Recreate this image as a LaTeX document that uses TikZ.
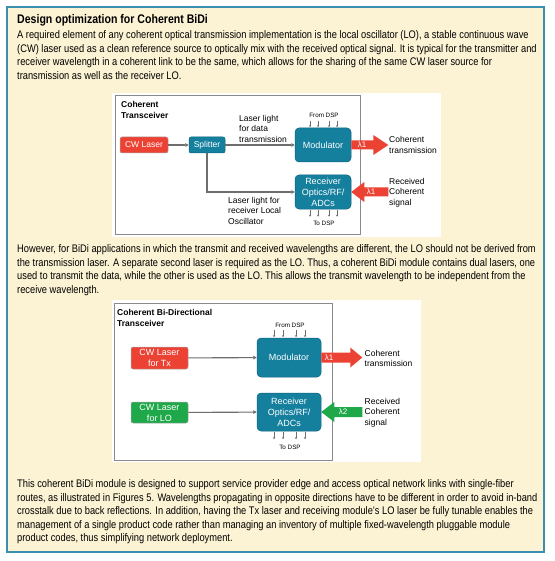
\documentclass[tikz,border=0pt]{standalone}
\usepackage{fontspec}
\setmainfont{Liberation Sans}
\newfontfamily\narrowfont[FakeStretch=0.845]{Liberation Sans}
\usetikzlibrary{arrows.meta,calc}
\definecolor{frameblue}{HTML}{3A8FB0}
\definecolor{cream}{HTML}{FCF3D4}
\definecolor{tealbox}{HTML}{15809E}
\definecolor{tealedge}{HTML}{0F6680}
\definecolor{redbox}{HTML}{EC4234}
\definecolor{greenbox}{HTML}{1FA84A}
\definecolor{linegray}{HTML}{6E6E6E}
\definecolor{boxgray}{HTML}{8A8A8A}
\begin{document}
\begin{tikzpicture}[x=1pt,y=-1pt,
  para/.style={inner sep=0, align=left, anchor=north west, font=\narrowfont\fontsize{11}{13.5}\selectfont},
  dtitle/.style={inner sep=0, align=left, anchor=north west, font=\bfseries\fontsize{8.5}{10.5}\selectfont},
  lbl/.style={inner sep=0, align=left, font=\fontsize{8.5}{10.5}\selectfont},
  tiny/.style={inner sep=0, font=\fontsize{6.3}{7}\selectfont},
  block/.style={inner sep=0, text=white, align=center, line width=0.5, font=\fontsize{9}{10.8}\selectfont},
  redblock/.style={block, fill=redbox, draw=black!35, rounded corners=2},
  greenblock/.style={block, fill=greenbox, draw=black!35, rounded corners=2},
  tealblock/.style={block, fill=tealbox, draw=tealedge},
  conn/.style={linegray, line width=1.1, -{Triangle[length=3.5pt,width=3.5pt]}},
  dsp/.style={linegray, line width=0.4, -{Stealth[length=2pt,width=2pt]}},
  lam/.style={inner sep=0, text=white, font=\fontsize{8}{9}\selectfont}
]
\useasboundingbox (0,0) rectangle (554,561);
\fill[white] (0,0) rectangle (554,561);
\draw[frameblue, line width=2, fill=cream] (7,7) rectangle (544,552);

\node[inner sep=0, anchor=base west, font=\narrowfont\bfseries\fontsize{12.5}{14}\selectfont] (title) at (17,23.5) {Design optimization for Coherent BiDi};

\node[para] (p1) at (17,30.5) {A required element of any coherent optical transmission implementation is the local oscillator (LO), a stable continuous wave\\
(CW) laser used as a clean reference source to optically mix with the received optical signal. It is typical for the transmitter and\\
receiver wavelength in a coherent link to be the same, which allows for the sharing of the same CW laser source for\\
transmission as well as the receiver LO.};

% ---------- diagram 1 ----------
\fill[white] (112,93) rectangle (441,237);
\draw[boxgray, line width=0.8] (115,95) rectangle (360,234);
\node[dtitle] (t1) at (121,101.5) {Coherent\\Transceiver};
\node[redblock, minimum width=48, minimum height=16, font=\fontsize{8.5}{10}\selectfont] (cw) at (144,145) {CW Laser};
\node[tealblock, minimum width=36, minimum height=16, rounded corners=2, font=\fontsize{8.5}{10}\selectfont] (sp) at (207,145) {Splitter};
\node[tealblock, rounded corners=4, minimum width=56, minimum height=34] (mod) at (323,145) {Modulator};
\node[tealblock, rounded corners=4, minimum width=56, minimum height=34] (rec) at (323,192) {Receiver\\Optics/RF/\\ADCs};
\draw[conn] (cw) -- (sp);
\draw[conn] (sp) -- (mod);
\draw[conn] (sp.south) |- (rec.west);
\node[lbl, anchor=north west] (l1) at (239,115) {Laser light\\for data\\transmission};
\node[lbl, anchor=north west] (l2) at (228,196.8) {Laser light for\\receiver Local\\Oscillator};
\node[tiny] (fd1) at (324,115) {From DSP};
\foreach \dx in {-13,-5,6,14} \draw[dsp] ($(mod.north)+(\dx,-7)$) -- ($(mod.north)+(\dx,-0.5)$);
\node[tiny] (td1) at (324,223) {To DSP};
\foreach \dx in {-13,-5,6,14} \draw[dsp] ($(rec.south)+(\dx,1)$) -- ($(rec.south)+(\dx,7.5)$);
% block arrows
\fill[redbox] (mod.east) ++(0,-4.5) -- ++(22,0) -- ++(0,-5.5) -- ++(15,10) -- ++(-15,10) -- ++(0,-5.5) -- ++(-22,0) -- cycle;
\node[lam] (lo1) at (362,145) {λ1};
\node[lbl, anchor=west] (ct1) at (389,145) {Coherent\\transmission};
\fill[redbox] (rec.east) -- ++(13,-10) -- ++(0,5.5) -- ++(24,0) -- ++(0,9) -- ++(-24,0) -- ++(0,5.5) -- cycle;
\node[lam] (li1) at (371,192) {λ1};
\node[lbl, anchor=west] (rc1) at (389,192.5) {Received\\Coherent\\signal};

\node[para] (p2) at (17,244.5) {However, for BiDi applications in which the transmit and received wavelengths are different, the LO should not be derived from\\
the transmission laser. A separate second laser is required as the LO. Thus, a coherent BiDi module contains dual lasers, one\\
used to transmit the data, while the other is used as the LO. This allows the transmit wavelength to be independent from the\\
receive wavelength.};

% ---------- diagram 2 ----------
\fill[white] (112,300) rectangle (421,462);
\draw[boxgray, line width=0.8] (114,303) rectangle (332,460);
\node[dtitle] (t2) at (117,309.5) {Coherent Bi-Directional\\Transceiver};
\node[redblock, minimum width=57, minimum height=22] (cwtx) at (159.5,358) {CW Laser\\for Tx};
\node[greenblock, minimum width=57, minimum height=21] (cwlo) at (159.5,412.5) {CW Laser\\for LO};
\node[tealblock, rounded corners=4, minimum width=64, minimum height=39] (mod2) at (289,357.5) {Modulator};
\node[tealblock, rounded corners=4, minimum width=64, minimum height=38] (rec2) at (289,412) {Receiver\\Optics/RF/\\ADCs};
\draw[conn] (cwtx) -- (mod2);
\draw[conn] (cwlo) -- (rec2);
\node[tiny] (fd2) at (290,325) {From DSP};
\foreach \dx in {-15,-6,7,16} \draw[dsp] ($(mod2.north)+(\dx,-8)$) -- ($(mod2.north)+(\dx,-0.5)$);
\node[tiny] (td2) at (290,447) {To DSP};
\foreach \dx in {-15,-6,7,16} \draw[dsp] ($(rec2.south)+(\dx,1)$) -- ($(rec2.south)+(\dx,8)$);
\fill[redbox] (mod2.east) ++(0,-5) -- ++(29,0) -- ++(0,-5) -- ++(12,10) -- ++(-12,10) -- ++(0,-5) -- ++(-29,0) -- cycle;
\node[lam] (lo2) at (329,358) {λ1};
\node[lbl, anchor=west] (ct2) at (364.5,358.5) {Coherent\\transmission};
\fill[greenbox] (rec2.east) -- ++(13,-10) -- ++(0,5) -- ++(28,0) -- ++(0,10) -- ++(-28,0) -- ++(0,5) -- cycle;
\node[lam] (li2) at (343,412) {λ2};
\node[lbl, anchor=west] (rc2) at (364.5,412.5) {Received\\Coherent\\signal};

\node[para] (p3) at (17,479.5) {This coherent BiDi module is designed to support service provider edge and access optical network links with single-fiber\\
routes, as illustrated in Figures 5. Wavelengths propagating in opposite directions have to be different in order to avoid in-band\\
crosstalk due to back reflections. In addition, having the Tx laser and receiving module’s LO laser be fully tunable enables the\\
management of a single product code rather than managing an inventory of multiple fixed-wavelength pluggable module\\
product codes, thus simplifying network deployment.};
\end{tikzpicture}
\end{document}
